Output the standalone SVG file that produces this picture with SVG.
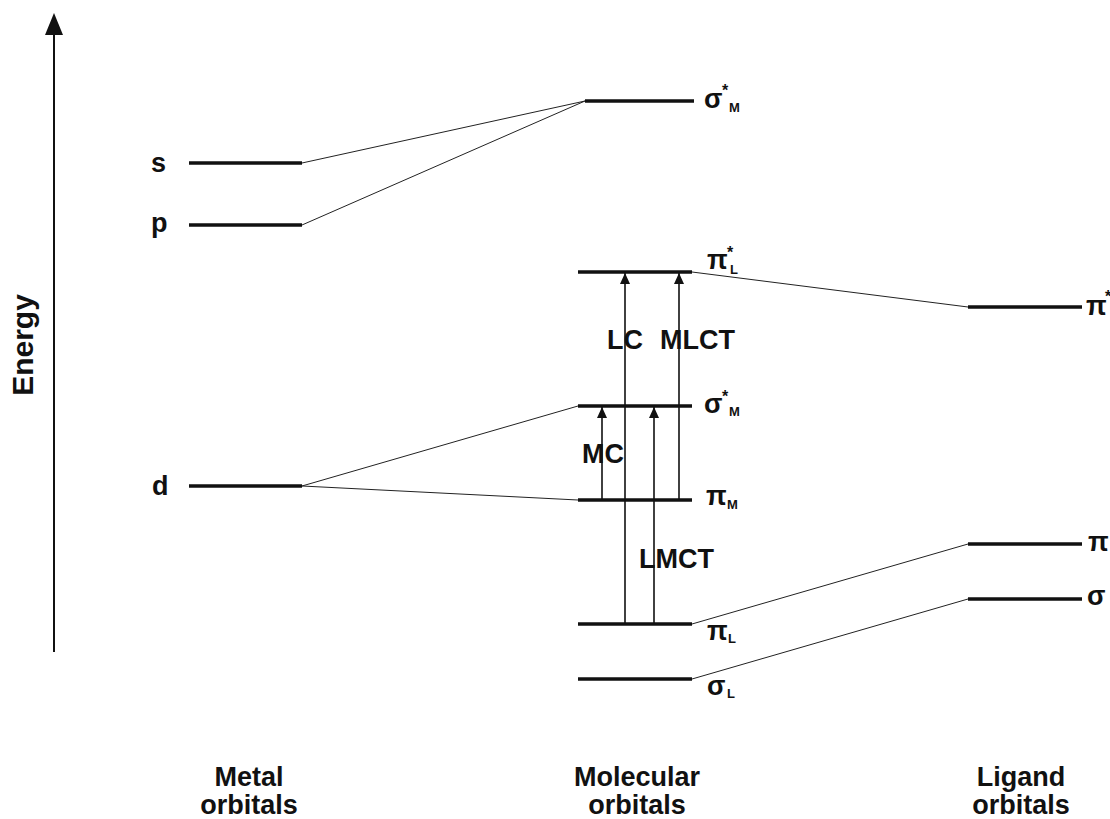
<svg xmlns="http://www.w3.org/2000/svg" width="1110" height="819" viewBox="0 0 1110 819">
<defs>
<marker id="ah" viewBox="0 0 11 10" refX="11" refY="5" markerWidth="11" markerHeight="10" markerUnits="userSpaceOnUse" orient="auto">
<path d="M0,0 L11,5 L0,10 Z" fill="#111"/>
</marker>
</defs>
<style>
.lvl{stroke:#111;stroke-width:3.5;fill:none}
.con{stroke:#222;stroke-width:1;fill:none}
.tr{stroke:#111;stroke-width:1.6;fill:none;marker-end:url(#ah)}
.t{font-family:"Liberation Sans",Arial,sans-serif;font-weight:bold;fill:#111}
.lab{font-size:27px}
.gk{font-size:27px}
.sup{font-size:16px}
.sub{font-size:13px}
.bot{font-size:27px;text-anchor:middle}
</style>
<rect width="1110" height="819" fill="#fff"/>

<g id="energy-axis">
<line x1="54" y1="652" x2="54" y2="33" stroke="#111" stroke-width="2"/>
<path d="M45,35 L54,13 L63,35 Z" fill="#111"/>
<text class="t" font-size="30" text-anchor="middle" transform="translate(33,345) rotate(-90)">Energy</text>
</g>

<g id="connectors">
<line class="con" x1="302" y1="163" x2="585" y2="101"/>
<line class="con" x1="302" y1="225" x2="585" y2="101"/>
<line class="con" x1="302" y1="486" x2="578" y2="406"/>
<line class="con" x1="302" y1="486" x2="578" y2="500"/>
<line class="con" x1="692" y1="272" x2="968" y2="307"/>
<line class="con" x1="692" y1="624" x2="968" y2="544"/>
<line class="con" x1="692" y1="679" x2="968" y2="599"/>
</g>

<g id="metal-s">
<line class="lvl" x1="189" y1="163" x2="302" y2="163"/>
<text class="t lab" x="151" y="172">s</text>
</g>
<g id="metal-p">
<line class="lvl" x1="189" y1="225" x2="302" y2="225"/>
<text class="t lab" x="151" y="232">p</text>
</g>
<g id="metal-d">
<line class="lvl" x1="189" y1="486" x2="302" y2="486"/>
<text class="t lab" x="152" y="495">d</text>
</g>

<g id="mo-sigma-star-M-top">
<line class="lvl" x1="585" y1="101" x2="694" y2="101"/>
<text class="t gk" x="704" y="108">σ</text>
<text class="t sup" x="722" y="96">*</text>
<text class="t sub" x="729" y="112">M</text>
</g>
<g id="mo-pi-star-L">
<line class="lvl" x1="578" y1="272" x2="692" y2="272"/>
<text class="t gk" x="707" y="269">π</text>
<text class="t sup" x="727" y="258">*</text>
<text class="t sub" x="730" y="274">L</text>
</g>
<g id="mo-sigma-star-M">
<line class="lvl" x1="578" y1="406" x2="692" y2="406"/>
<text class="t gk" x="704" y="413">σ</text>
<text class="t sup" x="722" y="402">*</text>
<text class="t sub" x="729" y="416">M</text>
</g>
<g id="mo-pi-M">
<line class="lvl" x1="578" y1="500" x2="692" y2="500"/>
<text class="t gk" x="706" y="505">π</text>
<text class="t sub" x="727" y="509">M</text>
</g>
<g id="mo-pi-L">
<line class="lvl" x1="578" y1="624" x2="692" y2="624"/>
<text class="t gk" x="707" y="640">π</text>
<text class="t sub" x="728" y="643">L</text>
</g>
<g id="mo-sigma-L">
<line class="lvl" x1="578" y1="679" x2="692" y2="679"/>
<text class="t gk" x="707" y="695">σ</text>
<text class="t sub" x="727" y="698">L</text>
</g>

<g id="lig-pi-star">
<line class="lvl" x1="968" y1="307" x2="1082" y2="307"/>
<text class="t gk" x="1086" y="315">π</text>
<text class="t sup" x="1105" y="302">*</text>
</g>
<g id="lig-pi">
<line class="lvl" x1="968" y1="544" x2="1082" y2="544"/>
<text class="t gk" x="1088" y="551">π</text>
</g>
<g id="lig-sigma">
<line class="lvl" x1="968" y1="599" x2="1082" y2="599"/>
<text class="t gk" x="1087" y="605">σ</text>
</g>

<g id="transitions">
<line class="tr" x1="625" y1="624" x2="625" y2="273"/>
<line class="tr" x1="679" y1="500" x2="679" y2="273"/>
<line class="tr" x1="602" y1="500" x2="602" y2="407"/>
<line class="tr" x1="654" y1="624" x2="654" y2="407"/>
</g>

<g id="transition-labels">
<text class="t" font-size="27" x="607" y="349">LC</text>
<text class="t" font-size="27" x="660" y="349">MLCT</text>
<text class="t" font-size="27" x="582" y="463">MC</text>
<text class="t" font-size="27" x="639" y="568">LMCT</text>
</g>

<g id="column-labels">
<text class="t bot" x="249" y="786">Metal</text>
<text class="t bot" x="249" y="814">orbitals</text>
<text class="t bot" x="637" y="786">Molecular</text>
<text class="t bot" x="637" y="814">orbitals</text>
<text class="t bot" x="1021" y="786">Ligand</text>
<text class="t bot" x="1021" y="814">orbitals</text>
</g>
</svg>
